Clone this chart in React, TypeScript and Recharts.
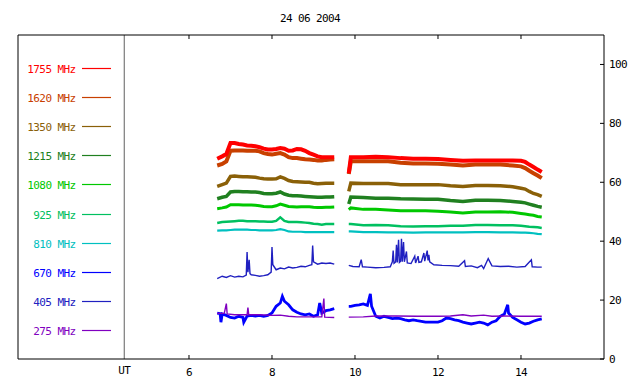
import React from 'react';
import { LineChart, Line, XAxis, YAxis, ReferenceLine, Legend } from 'recharts';

const FONT = '"DejaVu Sans Mono", monospace';
const TITLE = '24 06 2004';
const X_LABEL = 'UT';
const X_TICKS = [6, 8, 10, 12, 14];
const Y_TICKS = [0, 20, 40, 60, 80, 100];
const UT_POS = 4.44;
const X_DOMAIN: [number, number] = [1.88, 16];
const Y_DOMAIN: [number, number] = [0, 110];
const GAP_T = 9.7;

// shared time bases (hours UT)
const T_A = [6.68, 6.8, 6.9, 7.0, 7.1, 7.2, 7.3, 7.4, 7.5, 7.6, 7.7, 7.8, 7.9, 8.0, 8.1, 8.2, 8.3, 8.4, 8.5, 8.6, 8.7, 8.8, 8.9, 9.0, 9.1, 9.2, 9.3, 9.4, 9.5];
const T_B = [9.85, 9.9, 10.2, 10.5, 10.8, 11.1, 11.4, 11.7, 12.0, 12.3, 12.6, 12.9, 13.2, 13.5, 13.8, 14.0, 14.1, 14.2, 14.3, 14.4, 14.5];

const F1755_A = [68.0, 68.8, 69.6, 73.3, 73.3, 73.0, 72.8, 72.5, 72.4, 72.2, 71.9, 71.4, 71.1, 71.1, 71.3, 71.6, 71.4, 70.7, 70.8, 71.3, 71.2, 70.7, 69.9, 69.4, 68.8, 68.5, 68.5, 68.5, 68.5];
const F1755_B = [63.1, 68.5, 68.5, 68.7, 68.5, 68.2, 68.0, 68.0, 67.9, 67.6, 67.3, 67.4, 67.4, 67.4, 67.4, 67.3, 66.9, 66.0, 65.2, 64.3, 63.5];

const F1620_A = [65.7, 66.2, 67.1, 70.7, 70.8, 70.8, 70.8, 70.7, 70.7, 70.7, 70.5, 69.9, 69.6, 69.4, 69.7, 69.9, 69.4, 68.5, 68.2, 68.2, 68.0, 67.8, 67.7, 67.6, 67.4, 67.4, 67.6, 67.7, 67.8];
const F1620_B = [62.8, 67.1, 67.1, 67.1, 67.1, 66.6, 66.4, 66.4, 66.3, 66.0, 65.7, 66.0, 66.0, 66.0, 65.7, 65.4, 64.8, 63.9, 63.1, 62.3, 61.4];

const F1350_A = [58.6, 59.2, 59.7, 62.0, 62.1, 62.0, 61.9, 61.9, 61.8, 61.7, 61.4, 61.2, 61.1, 61.1, 61.2, 61.8, 61.3, 60.6, 60.3, 60.2, 60.1, 60.0, 60.0, 59.7, 59.5, 59.6, 59.7, 59.7, 59.7];
const F1350_B = [56.9, 59.7, 59.6, 59.6, 59.6, 59.2, 59.2, 59.2, 59.2, 58.8, 58.6, 58.9, 58.9, 58.8, 58.5, 58.0, 57.7, 56.9, 56.2, 55.8, 55.2];

const F1215_A = [54.4, 54.9, 55.2, 56.7, 56.9, 56.9, 56.8, 56.8, 56.7, 56.7, 56.5, 56.2, 56.1, 56.1, 56.3, 56.7, 56.0, 55.6, 55.4, 55.4, 55.3, 55.2, 55.1, 55.0, 54.9, 54.9, 55.0, 55.0, 55.1];
const F1215_B = [52.6, 55.0, 54.8, 54.6, 54.6, 54.4, 54.3, 54.2, 54.2, 53.8, 53.5, 53.9, 53.9, 53.8, 53.5, 53.2, 53.0, 52.6, 52.2, 51.8, 51.5];

const F1080_A = [51.0, 51.3, 51.6, 52.4, 52.4, 52.4, 52.3, 52.3, 52.3, 52.2, 52.0, 51.8, 51.7, 51.7, 52.0, 52.6, 52.2, 51.8, 51.7, 51.6, 51.7, 51.7, 51.7, 51.5, 51.4, 51.4, 51.5, 51.5, 51.6];
const F1080_B = [50.7, 51.3, 50.8, 50.8, 50.6, 50.3, 50.3, 50.3, 50.2, 49.9, 49.6, 49.9, 49.9, 50.0, 49.8, 49.4, 49.2, 49.0, 48.8, 48.4, 48.2];

const F925_A = [46.2, 46.5, 46.6, 46.7, 46.8, 46.9, 46.9, 46.8, 46.8, 46.8, 46.7, 46.7, 46.6, 46.6, 46.9, 48.1, 46.9, 46.5, 46.5, 46.5, 46.4, 46.3, 46.2, 45.9, 45.8, 45.6, 45.8, 45.8, 45.8];
const F925_B = [45.8, 45.8, 45.4, 45.5, 45.4, 45.1, 45.0, 45.1, 45.1, 45.2, 45.2, 45.5, 45.5, 45.4, 45.4, 45.2, 45.1, 44.9, 44.8, 44.7, 44.5];

const F810_A = [43.6, 43.7, 43.7, 43.8, 43.9, 43.9, 43.9, 43.9, 43.8, 43.8, 43.7, 43.7, 43.7, 43.7, 43.8, 44.1, 43.8, 43.3, 43.2, 43.2, 43.2, 43.1, 43.1, 43.1, 43.1, 43.1, 43.1, 43.1, 43.1];
const F810_B = [43.3, 43.3, 43.1, 43.1, 43.0, 43.0, 42.9, 43.0, 43.0, 43.0, 43.0, 43.1, 43.1, 43.0, 43.0, 42.9, 42.9, 42.8, 42.7, 42.5, 42.4];

// 670 MHz (bright blue, lower noisy trace)
const T670_A = [6.68, 6.75, 6.77, 6.8, 6.9, 7.0, 7.1, 7.2, 7.3, 7.32, 7.4, 7.5, 7.6, 7.7, 7.8, 7.9, 8.0, 8.1, 8.2, 8.25, 8.3, 8.4, 8.5, 8.6, 8.7, 8.8, 8.9, 9.0, 9.1, 9.15, 9.2, 9.3, 9.4, 9.5];
const F670_A = [15.6, 15.4, 12.5, 15.3, 14.8, 14.1, 13.9, 14.5, 14.1, 12.5, 14.6, 14.8, 14.6, 14.8, 14.5, 14.8, 15.6, 17.9, 19.0, 21.3, 19.6, 18.4, 16.7, 15.9, 15.3, 15.0, 15.3, 14.5, 15.0, 19.0, 15.6, 16.4, 16.7, 17.1];
const T670_B = [9.85, 9.9, 10.0, 10.1, 10.2, 10.3, 10.37, 10.4, 10.5, 10.6, 10.7, 10.8, 10.9, 11.0, 11.1, 11.2, 11.3, 11.4, 11.5, 11.6, 11.7, 11.8, 11.9, 12.0, 12.1, 12.2, 12.3, 12.4, 12.5, 12.6, 12.7, 12.8, 12.9, 13.0, 13.1, 13.2, 13.3, 13.4, 13.5, 13.6, 13.68, 13.7, 13.8, 13.9, 14.0, 14.1, 14.2, 14.3, 14.4, 14.5];
const F670_B = [17.9, 17.9, 18.2, 18.4, 18.7, 18.2, 22.1, 17.9, 14.5, 13.9, 14.5, 14.1, 13.7, 13.9, 13.7, 13.3, 13.0, 13.3, 13.0, 12.8, 12.5, 12.5, 12.5, 12.5, 13.0, 13.9, 13.7, 13.3, 13.0, 12.5, 12.2, 11.9, 12.2, 12.5, 12.2, 11.6, 12.5, 13.0, 14.5, 15.3, 18.4, 15.6, 14.1, 13.3, 12.5, 11.9, 12.2, 12.8, 13.3, 13.6];

// 405 MHz (dark blue, spiky trace)
const T405_A = [6.68, 6.8, 6.9, 7.0, 7.1, 7.2, 7.3, 7.38, 7.40, 7.42, 7.45, 7.47, 7.5, 7.6, 7.7, 7.8, 7.9, 7.98, 8.0, 8.02, 8.1, 8.2, 8.3, 8.4, 8.5, 8.6, 8.7, 8.8, 8.9, 8.96, 8.98, 9.0, 9.1, 9.2, 9.3, 9.4, 9.5];
const F405_A = [27.3, 28.1, 27.7, 28.3, 27.8, 28.1, 27.9, 28.5, 36.3, 29.5, 33.7, 29.0, 28.6, 28.4, 28.1, 28.3, 28.6, 29.5, 38.0, 32.0, 30.3, 30.9, 30.6, 31.2, 30.9, 31.1, 31.5, 31.3, 31.8, 32.0, 38.5, 33.0, 32.2, 32.6, 32.4, 32.6, 32.2];
const T405_B = [9.85, 9.95, 10.1, 10.15, 10.18, 10.3, 10.5, 10.7, 10.85, 10.9, 10.92, 10.94, 10.98, 11.0, 11.02, 11.05, 11.07, 11.1, 11.12, 11.14, 11.17, 11.19, 11.24, 11.26, 11.35, 11.44, 11.46, 11.52, 11.54, 11.6, 11.66, 11.68, 11.74, 11.76, 11.78, 11.8, 11.9, 12.1, 12.3, 12.5, 12.64, 12.66, 12.8, 12.95, 13.05, 13.1, 13.21, 13.3, 13.5, 13.7, 13.9, 14.1, 14.25, 14.27, 14.4, 14.5];
const F405_B = [31.8, 31.4, 31.3, 33.7, 31.3, 31.2, 31.0, 31.1, 31.3, 33.0, 36.8, 32.5, 33.0, 38.8, 32.8, 40.5, 32.8, 33.2, 40.8, 33.0, 39.7, 33.0, 36.5, 32.6, 32.4, 34.9, 32.6, 34.9, 32.8, 33.0, 36.0, 33.2, 36.8, 33.5, 35.4, 33.0, 32.0, 31.8, 31.7, 31.5, 33.4, 31.4, 31.6, 31.0, 31.8, 30.7, 34.1, 31.6, 31.4, 31.5, 31.2, 31.4, 33.7, 31.3, 31.2, 31.2];

// 275 MHz (purple)
const T275_A = [6.68, 6.85, 6.9, 6.92, 7.1, 7.3, 7.4, 7.42, 7.44, 7.7, 8.0, 8.2, 8.4, 8.6, 8.8, 9.0, 9.2, 9.25, 9.27, 9.5];
const F275_A = [15.5, 15.5, 18.8, 15.3, 15.0, 15.0, 15.0, 17.5, 15.0, 15.0, 14.8, 14.9, 14.5, 14.3, 14.3, 14.3, 14.3, 20.5, 14.2, 14.1];
const T275_B = [9.85, 10.2, 10.5, 11.0, 11.5, 12.0, 12.3, 12.6, 12.8, 13.1, 13.3, 13.6, 14.0, 14.5];
const F275_B = [14.2, 14.3, 14.6, 14.6, 14.5, 14.5, 14.6, 15.0, 14.6, 14.9, 14.5, 14.6, 14.5, 14.5];

const LABELS = ['1755 MHz', '1620 MHz', '1350 MHz', '1215 MHz', '1080 MHz', '925 MHz', '810 MHz', '670 MHz', '405 MHz', '275 MHz'];
const COLORS = ['#ff0000', '#c84000', '#8a6008', '#208020', '#00c800', '#00c060', '#00c0c0', '#0000ff', '#2020c0', '#8000c0'];
const WIDTHS = [4, 4, 3.5, 3.5, 3, 2.5, 2.2, 2.8, 1.4, 1.4];
const DRAW_ORDER = [6, 5, 4, 3, 2, 1, 0, 8, 7, 9];

type Pt = { t: number; v: number | null };
function build(ta: number[], va: number[], tb: number[], vb: number[]): Pt[] {
  const a = ta.map((t, i) => ({ t, v: va[i] }));
  const b = tb.map((t, i) => ({ t, v: vb[i] }));
  return [...a, { t: GAP_T, v: null }, ...b];
}

const DATA: Pt[][] = [
  build(T_A, F1755_A, T_B, F1755_B),
  build(T_A, F1620_A, T_B, F1620_B),
  build(T_A, F1350_A, T_B, F1350_B),
  build(T_A, F1215_A, T_B, F1215_B),
  build(T_A, F1080_A, T_B, F1080_B),
  build(T_A, F925_A, T_B, F925_B),
  build(T_A, F810_A, T_B, F810_B),
  build(T670_A, F670_A, T670_B, F670_B),
  build(T405_A, F405_A, T405_B, F405_B),
  build(T275_A, F275_A, T275_B, F275_B),
];

const textStyle = { fontFamily: FONT, fontSize: 11, letterSpacing: -0.6 } as const;

const BottomTick = (p: any) => {
  const { x, y, payload } = p;
  if (payload.value === UT_POS) {
    return (
      <text x={x} y={y + 15} textAnchor="middle" fill="#000" style={textStyle}>{X_LABEL}</text>
    );
  }
  return (
    <g>
      <line x1={x} x2={x} y1={y} y2={y - 4} stroke="#000" strokeWidth={1} />
      <text x={x} y={y + 17} textAnchor="middle" fill="#000" style={textStyle}>{payload.value}</text>
    </g>
  );
};

const TopTick = (p: any) => {
  const { x, y } = p;
  return <line x1={x} x2={x} y1={y} y2={y + 4} stroke="#000" strokeWidth={1} />;
};

const RightTick = (p: any) => {
  const { x, y, payload } = p;
  return (
    <g>
      <line x1={x - 4} x2={x} y1={y} y2={y} stroke="#000" strokeWidth={1} />
      <text x={x + 5} y={y + 4} textAnchor="start" fill="#000" style={textStyle}>{payload.value}</text>
    </g>
  );
};

const LEG_Y0 = 67.5;
const LEG_DY = 29.2;

const Overlay = () => (
  <svg width={640} height={384} style={{ display: 'block' }}>
    <text x={310} y={22} textAnchor="middle" fill="#000" style={textStyle}>{TITLE}</text>
    {LABELS.map((lab, i) => {
      const cy = Math.round(LEG_Y0 + i * LEG_DY) + 0.5;
      return (
        <g key={lab}>
          <text x={75.5} y={cy + 4.5} textAnchor="end" fill={COLORS[i]} style={textStyle}>{lab}</text>
          <line x1={82} x2={111} y1={cy} y2={cy} stroke={COLORS[i]} strokeWidth={1.2} />
        </g>
      );
    })}
  </svg>
);

export default function App() {
  return (
    <div style={{ position: 'absolute', left: 0, top: 0, width: 640, height: 384, background: '#fff' }}>
      <LineChart width={640} height={384} margin={{ top: 0, right: 0, bottom: 0, left: 0 }}>
        <XAxis
          xAxisId="bottom"
          dataKey="t"
          type="number"
          orientation="bottom"
          domain={X_DOMAIN}
          allowDataOverflow
          ticks={[UT_POS, ...X_TICKS]}
          interval={0}
          height={25}
          tickLine={false}
          tickSize={0}
          tickMargin={0}
          tick={BottomTick}
          axisLine={{ stroke: '#000', strokeWidth: 1 }}
        />
        <XAxis
          xAxisId="top"
          dataKey="t"
          type="number"
          orientation="top"
          domain={X_DOMAIN}
          allowDataOverflow
          ticks={X_TICKS}
          interval={0}
          height={35}
          tickLine={false}
          tickSize={0}
          tickMargin={0}
          tick={TopTick}
          axisLine={{ stroke: '#000', strokeWidth: 1 }}
        />
        <YAxis
          yAxisId="left"
          orientation="left"
          type="number"
          domain={Y_DOMAIN}
          width={18}
          tick={false}
          tickLine={false}
          axisLine={{ stroke: '#000', strokeWidth: 1 }}
        />
        <YAxis
          yAxisId="right"
          orientation="right"
          type="number"
          domain={Y_DOMAIN}
          allowDataOverflow
          ticks={Y_TICKS}
          interval={0}
          width={36}
          tickLine={false}
          tickSize={0}
          tickMargin={0}
          tick={RightTick}
          axisLine={{ stroke: '#000', strokeWidth: 1 }}
        />
        <ReferenceLine xAxisId="bottom" yAxisId="right" x={UT_POS} stroke="#606060" strokeWidth={1} />
        {DRAW_ORDER.map((i) => (
          <Line
            key={LABELS[i]}
            xAxisId="bottom"
            yAxisId="right"
            data={DATA[i]}
            dataKey="v"
            name={LABELS[i]}
            type="linear"
            stroke={COLORS[i]}
            strokeWidth={WIDTHS[i]}
            dot={false}
            activeDot={false}
            connectNulls={false}
            isAnimationActive={false}
          />
        ))}
        <Legend
          layout="horizontal"
          verticalAlign="middle"
          align="center"
          content={() => <Overlay />}
          wrapperStyle={{ left: 0, top: 0, width: 640, height: 384, pointerEvents: 'none' }}
        />
      </LineChart>
    </div>
  );
}
